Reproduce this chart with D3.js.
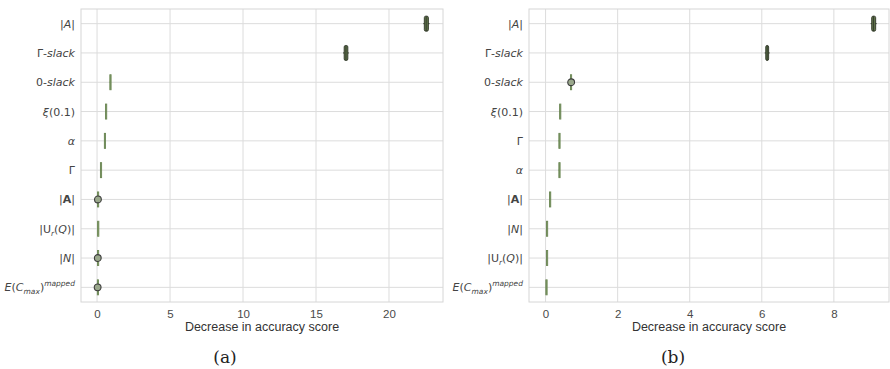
<!doctype html>
<html>
<head>
    <meta charset="utf-8">
    <title>Permutation importance</title>
    <style>
        body { margin: 0; padding: 0; background: #fff; }
        .tick text { font-family: "Liberation Sans", Arial, sans-serif; font-size: 11.5px; fill: #4a4a4a; }
        .ylab { font-family: "DejaVu Sans", sans-serif; font-size: 11px; fill: #444; }
        .axtitle { font-family: "Liberation Sans", Arial, sans-serif; font-size: 12.5px; fill: #333; }
        .caption { font-family: "DejaVu Serif", "Liberation Serif", serif; font-size: 17px; fill: #222; }
    </style>
</head>
<body>
    <svg id="chart" width="890" height="369"></svg>

    <script src="https://d3js.org/d3.v7.min.js"></script>
    <script>
        // feature order per panel (top to bottom)
        var featuresA = ["absA", "gslack", "zslack", "xi", "alpha", "gamma", "boldA", "union", "absN", "ecmax"];
        var featuresB = ["absA", "gslack", "zslack", "xi", "gamma", "alpha", "boldA", "absN", "union", "ecmax"];

        // box stats per feature: [whisker low, q1, median, q3, whisker high]
        var statsA = [
            [22.35, 22.42, 22.55, 22.70, 22.78],
            [16.85, 16.93, 17.05, 17.18, 17.25],
            [0.86, 0.88, 0.90, 0.93, 0.95],
            [0.56, 0.58, 0.60, 0.62, 0.64],
            [0.49, 0.50, 0.52, 0.54, 0.55],
            [0.22, 0.23, 0.25, 0.27, 0.28],
            [0.02, 0.03, 0.05, 0.07, 0.08],
            [0.03, 0.04, 0.05, 0.06, 0.07],
            [0.02, 0.03, 0.04, 0.06, 0.07],
            [0.01, 0.02, 0.03, 0.05, 0.06]
        ];
        var outliersA = [[], [], [], [], [], [], [0.06], [], [0.05], [0.04]];

        var statsB = [
            [9.02, 9.05, 9.10, 9.16, 9.19],
            [6.08, 6.11, 6.15, 6.19, 6.22],
            [0.68, 0.69, 0.70, 0.71, 0.72],
            [0.38, 0.39, 0.40, 0.41, 0.42],
            [0.36, 0.37, 0.38, 0.39, 0.40],
            [0.36, 0.37, 0.38, 0.39, 0.40],
            [0.10, 0.11, 0.12, 0.13, 0.14],
            [0.02, 0.025, 0.03, 0.035, 0.04],
            [0.02, 0.025, 0.03, 0.035, 0.04],
            [0.005, 0.01, 0.015, 0.02, 0.025]
        ];
        var outliersB = [[], [], [0.71], [], [], [], [], [], [], []];

        var ticksA = [0, 5, 10, 15, 20];
        var ticksB = [0, 2, 4, 6, 8];
        var xTitle = "Decrease in accuracy score";

        // label pieces: [text, style]  (i = italic, b = bold, sub, sup)
        var labelParts = {
            absA:   [["|", ""], ["A", "i"], ["|", ""]],
            gslack: [["Γ-", ""], ["slack", "i"]],
            zslack: [["0-", ""], ["slack", "i"]],
            xi:     [["ξ", "i"], ["(0.1)", ""]],
            alpha:  [["α", "i"]],
            gamma:  [["Γ", ""]],
            boldA:  [["|", ""], ["A", "b"], ["|", ""]],
            union:  [["|U", ""], ["r", "isub"], ["(", ""], ["Q", "i"], [")|", ""]],
            absN:   [["|", ""], ["N", "i"], ["|", ""]],
            ecmax:  [["E", "i"], ["(", ""], ["C", "i"], ["max", "isub"], [")", ""], ["mapped", "isup"]]
        };

        var svg = d3.select("#chart");

        function drawPanel(p) {
            var x = d3.scaleLinear().domain(p.domain).range([p.left, p.right]);
            var y = d3.scaleBand().domain(p.features).range([p.top, p.bottom]);
            var g = svg.append("g");

            // grid
            g.selectAll(".vgrid").data(p.ticks).enter().append("line")
                .attr("x1", function(d) { return x(d); })
                .attr("x2", function(d) { return x(d); })
                .attr("y1", p.top).attr("y2", p.bottom)
                .attr("stroke", "#dcdcdc").attr("stroke-width", 1);
            g.selectAll(".hgrid").data(p.features).enter().append("line")
                .attr("x1", p.left).attr("x2", p.right)
                .attr("y1", function(d) { return y(d) + y.bandwidth() / 2; })
                .attr("y2", function(d) { return y(d) + y.bandwidth() / 2; })
                .attr("stroke", "#dcdcdc").attr("stroke-width", 1);
            g.append("rect")
                .attr("x", p.left).attr("y", p.top)
                .attr("width", p.right - p.left).attr("height", p.bottom - p.top)
                .attr("fill", "none").attr("stroke", "#d6d6d6");

            // x axis
            var xa = g.append("g")
                .attr("transform", "translate(0," + p.bottom + ")")
                .call(d3.axisBottom(x).tickValues(p.ticks).tickSize(0).tickPadding(8));
            xa.select(".domain").remove();

            g.append("text").attr("class", "axtitle")
                .attr("x", (p.left + p.right) / 2).attr("y", p.bottom + 29)
                .attr("text-anchor", "middle").text(xTitle);

            g.append("text").attr("class", "caption")
                .attr("x", p.capX).attr("y", 363)
                .attr("text-anchor", "middle").text(p.caption);

            // y labels
            p.features.forEach(function(f) {
                var t = g.append("text").attr("class", "ylab")
                    .attr("x", p.left - 6)
                    .attr("y", y(f) + y.bandwidth() / 2 + 4)
                    .attr("text-anchor", "end");
                var shift = 0;
                labelParts[f].forEach(function(seg) {
                    var s = t.append("tspan").text(seg[0]);
                    var st = seg[1];
                    if (st.indexOf("i") >= 0) s.style("font-style", "italic");
                    if (st === "b") s.style("font-weight", "bold");
                    var dy = 0;
                    if (st.indexOf("sub") >= 0) { dy = 3; s.style("font-size", "7.5px"); }
                    else if (st.indexOf("sup") >= 0) { dy = -5; s.style("font-size", "7.5px"); }
                    s.attr("dy", dy - shift);
                    shift = dy;
                });
            });

            // boxes
            var bh = 15;
            function wide(i) { return x(p.stats[i][3]) - x(p.stats[i][1]) > 2; }
            var rows = g.selectAll(".row").data(p.features).enter().append("g")
                .attr("transform", function(d) { return "translate(0," + (y(d) + y.bandwidth() / 2) + ")"; });

            rows.append("line")
                .attr("x1", function(d, i) { return x(p.stats[i][0]); })
                .attr("x2", function(d, i) { return x(p.stats[i][4]); })
                .attr("stroke", function(d, i) { return wide(i) ? "#3d4733" : "#7d9763"; })
                .attr("stroke-width", 1);
            rows.append("rect")
                .attr("x", function(d, i) { return x(p.stats[i][1]); })
                .attr("width", function(d, i) { return Math.max(1.2, x(p.stats[i][3]) - x(p.stats[i][1])); })
                .attr("y", -bh / 2).attr("height", bh)
                .attr("rx", function(d, i) { return wide(i) ? 1.5 : 0; })
                .attr("fill", function(d, i) { return wide(i) ? "#5e7149" : "#86a06d"; })
                .attr("stroke", function(d, i) { return wide(i) ? "#2f3528" : "#6f8a58"; })
                .attr("stroke-width", 0.9);
            rows.append("line")
                .attr("x1", function(d, i) { return x(p.stats[i][2]); })
                .attr("x2", function(d, i) { return x(p.stats[i][2]); })
                .attr("y1", -bh / 2).attr("y2", bh / 2)
                .attr("stroke", function(d, i) { return wide(i) ? "#2f3528" : "#6f8a58"; })
                .attr("stroke-width", 0.8);

            rows.each(function(d, i) {
                d3.select(this).selectAll("circle").data(p.outliers[i]).enter().append("circle")
                    .attr("cx", function(v) { return x(v); })
                    .attr("cy", 0).attr("r", 3.4)
                    .attr("fill", "#9aa88c").attr("stroke", "#3c3c3c").attr("stroke-width", 1.1);
            });
        }

        drawPanel({
            features: featuresA, stats: statsA, outliers: outliersA, ticks: ticksA,
            domain: [-1.1, 23.7], left: 81, right: 443, top: 9, bottom: 302,
            caption: "(a)", capX: 225
        });
        drawPanel({
            features: featuresB, stats: statsB, outliers: outliersB, ticks: ticksB,
            domain: [-0.46, 9.53], left: 529, right: 889, top: 9, bottom: 302,
            caption: "(b)", capX: 673
        });
    </script>
</body>
</html>
